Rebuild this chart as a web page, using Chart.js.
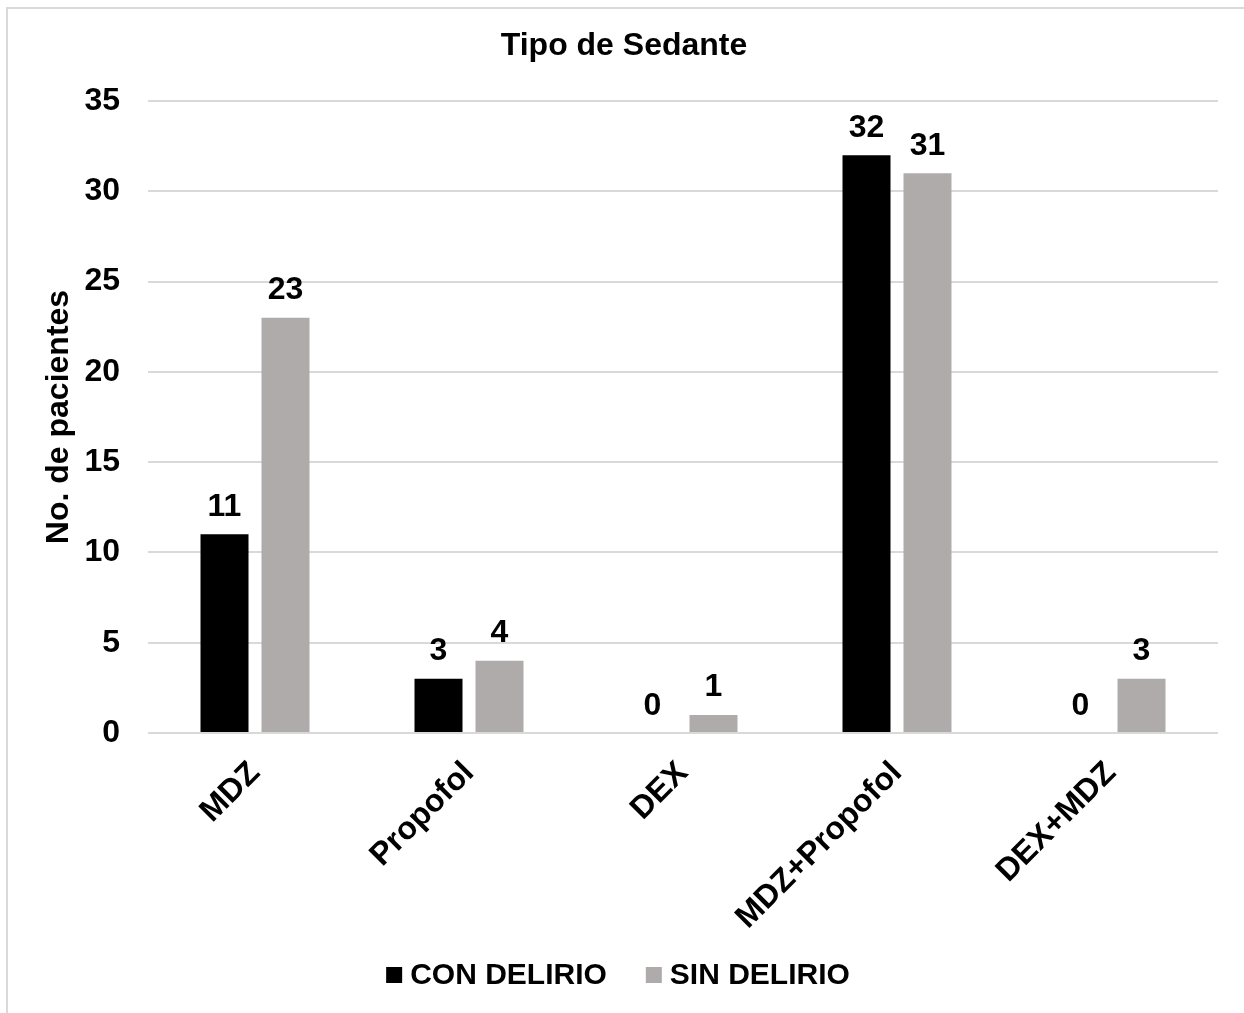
<!DOCTYPE html>
<html>
<head>
<meta charset="utf-8">
<script src="https://cdn.jsdelivr.net/npm/chart.js@4.4.1/dist/chart.umd.min.js"></script>
<style>
  html, body { margin: 0; padding: 0; background: #ffffff; overflow: hidden; }
  #wrap { position: relative; width: 1244px; height: 1013px; }
</style>
</head>
<body>
<div id="wrap"><canvas id="c"></canvas></div>
<script>
const categories = ["MDZ", "Propofol", "DEX", "MDZ+Propofol", "DEX+MDZ"];
const conDelirio = [11, 3, 0, 32, 0];
const sinDelirio = [23, 4, 1, 31, 3];
const seriesNames = ["CON DELIRIO", "SIN DELIRIO"];
const chartTitle = "Tipo de Sedante";
const yAxisTitle = "No. de pacientes";
const yMin = 0, yMax = 35, yStep = 5;

const FONT = 'Arial, "Liberation Sans", sans-serif';
const GRID = '#d9d9d9';
const colors = ['#000000', '#afabab'];

const framePlugin = {
  id: 'frame',
  beforeDraw(chart) {
    const ctx = chart.ctx;
    ctx.save();
    ctx.strokeStyle = GRID;
    ctx.lineWidth = 2;
    ctx.beginPath();
    ctx.moveTo(7, 1013);
    ctx.lineTo(7, 8);
    ctx.lineTo(1244, 8);
    ctx.stroke();
    ctx.restore();
  }
};

const labelsPlugin = {
  id: 'valueLabels',
  afterDatasetsDraw(chart) {
    const ctx = chart.ctx;
    ctx.save();
    ctx.font = 'bold 32px ' + FONT;
    ctx.fillStyle = '#000';
    ctx.textAlign = 'center';
    ctx.textBaseline = 'alphabetic';
    chart.data.datasets.forEach((ds, di) => {
      const meta = chart.getDatasetMeta(di);
      meta.data.forEach((bar, i) => {
        ctx.fillText(String(ds.data[i]), bar.x, bar.y - 18.5);
      });
    });
    ctx.restore();
  }
};

const legendPlugin = {
  id: 'customLegend',
  afterDraw(chart) {
    const ctx = chart.ctx;
    ctx.save();
    ctx.font = 'bold 30px ' + FONT;
    const box = 16, gapBoxText = 8, gapItems = 39;
    const items = chart.data.datasets.map(ds => ({ text: ds.label, color: ds.backgroundColor, w: ctx.measureText(ds.label).width }));
    let total = 0;
    items.forEach((it, i) => { total += box + gapBoxText + it.w + (i < items.length - 1 ? gapItems : 0); });
    let x = 618 - total / 2;
    const cy = 975;
    ctx.textBaseline = 'middle';
    ctx.textAlign = 'left';
    items.forEach(it => {
      ctx.fillStyle = it.color;
      ctx.fillRect(x, cy - box / 2, box, box);
      x += box + gapBoxText;
      ctx.fillStyle = '#000';
      ctx.fillText(it.text, x, cy + 1);
      x += it.w + gapItems;
    });
    ctx.restore();
  }
};

new Chart(document.getElementById('c'), {
  type: 'bar',
  data: {
    labels: categories,
    datasets: [
      { label: seriesNames[0], data: conDelirio, backgroundColor: colors[0], categoryPercentage: 0.57, barPercentage: 0.787 },
      { label: seriesNames[1], data: sinDelirio, backgroundColor: colors[1], categoryPercentage: 0.57, barPercentage: 0.787 }
    ]
  },
  options: {
    responsive: true,
    maintainAspectRatio: false,
    animation: false,
    layout: { padding: { top: 10, left: 30, right: 26, bottom: 80 } },
    plugins: {
      legend: { display: false },
      tooltip: { enabled: false },
      title: {
        display: true,
        text: chartTitle,
        color: '#000',
        font: { family: FONT, size: 32, weight: 'bold' },
        padding: { top: 17.3, bottom: 35.3 }
      }
    },
    scales: {
      x: {
        grid: { display: false, drawTicks: false },
        border: { display: false },
        ticks: {
          color: '#000',
          font: { family: FONT, size: 32, weight: 'bold' },
          minRotation: 45,
          maxRotation: 45,
          padding: 21.4,
          autoSkip: false
        },
        afterFit(scale) { scale.height = 200; }
      },
      y: {
        min: yMin,
        max: yMax,
        grid: { color: GRID, lineWidth: 2, drawTicks: false },
        border: { display: false },
        ticks: {
          stepSize: yStep,
          color: '#000',
          padding: 28,
          font: { family: FONT, size: 32, weight: 'bold' }
        },
        title: {
          display: true,
          text: yAxisTitle,
          color: '#000',
          font: { family: FONT, size: 32, weight: 'bold' },
          padding: { top: 9.8, bottom: 0 }
        },
        afterFit(scale) { scale.width = 118; }
      }
    }
  },
  plugins: [framePlugin, labelsPlugin, legendPlugin]
});
</script>
</body>
</html>
